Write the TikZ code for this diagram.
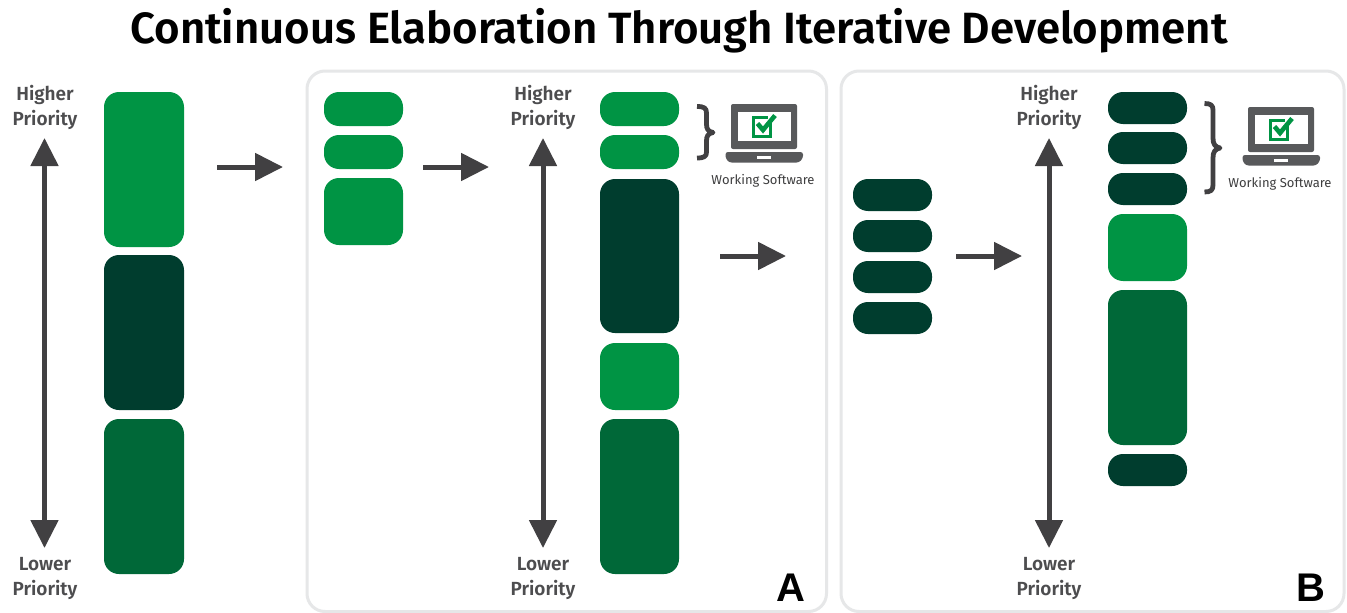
\documentclass[tikz,border=0pt]{standalone}
\usepackage{fontspec}
\setmainfont[BoldFont={Fira Sans SemiBold}]{Fira Sans}
\newfontfamily\letterfont{Liberation Sans}
\usetikzlibrary{arrows.meta}
\definecolor{gA}{HTML}{009444}
\definecolor{gB}{HTML}{003D2E}
\definecolor{gC}{HTML}{006838}
\definecolor{ink}{HTML}{414042}
\definecolor{lab}{HTML}{4D4D4F}
\definecolor{lap}{HTML}{58595B}
\definecolor{panelc}{HTML}{E6E7E8}
\tikzset{
  barbox/.style={rectangle,rounded corners=#1,draw=none,inner sep=0pt,outer sep=0pt,anchor=north west},
  barbox/.default=15pt,
  arrowline/.style={draw=ink,line width=5pt,-{Triangle[length=28pt,width=27pt]}},
  bothline/.style={draw=ink,line width=5pt,{Triangle[length=28pt,width=27pt]}-{Triangle[length=28pt,width=27pt]}},
  paneln/.style={rectangle,rounded corners=18pt,draw=panelc,line width=3pt,anchor=north west,inner sep=0pt,outer sep=0pt},
  prio/.style={text=lab,font=\fontsize{19}{25}\selectfont\bfseries,align=center,inner sep=0pt},
  wsw/.style={text=lab!80!black,font=\fontsize{13}{14}\selectfont,inner sep=0pt},
  bracepath/.style={draw=ink,line width=4.8pt,line join=round},
}
\newcommand{\barnode}[6]{\node[barbox,fill=#2,minimum width=#5 pt,minimum height=#6 pt] (#1) at (#3,#4) {};}
\newcommand{\laptop}[2]{%
  \begin{scope}[shift={(#1,#2)}]
    \fill[lap,rounded corners=2pt] (731,104) rectangle (797,149);
    \fill[white] (737.5,111.5) rectangle (791,140.5);
    \fill[lap,rounded corners=2.5pt] (725.5,152) -- (803,152) -- (803,158) -- (799,162.5) -- (729,162.5) -- (725.5,158) -- cycle;
    \fill[white] (757,155.5) rectangle (771,158.5);
    \draw[gA,line width=3pt] (770.5,122) -- (770.5,136) -- (753.5,136) -- (753.5,117.5) -- (768,117.5);
    \draw[gA,line width=4.6pt] (757.5,123.5) -- (763,130) -- (775,115.5);
  \end{scope}}
\begin{document}
\begin{tikzpicture}[x=1pt,y=-1pt]
\useasboundingbox (0,0) rectangle (1347,613);
\fill[white] (0,0) rectangle (1347,613);
\node[text=black,font=\fontsize{43.75}{48}\selectfont\bfseries,inner sep=0pt] (title) at (679,31) {Continuous Elaboration Through Iterative Development};
% panels
\node[paneln,minimum width=519.5pt,minimum height=540.5pt] (panelA) at (307,71) {};
\node[paneln,minimum width=503pt,minimum height=540.5pt] (panelB) at (841,71) {};
% left column
\barnode{l1}{gA}{104}{92}{80}{155}
\barnode{l2}{gB}{104}{255}{80}{155}
\barnode{l3}{gC}{104}{419}{80}{155}
% A left
\barnode{a1}{gA}{324}{92}{79}{34}
\barnode{a2}{gA}{324}{135}{79}{34}
\barnode{a3}{gA}{324}{178}{79}{67}
% A right
\barnode{ar1}{gA}{600}{92}{79}{34}
\barnode{ar2}{gA}{600}{135}{79}{34}
\barnode{ar3}{gB}{600}{179}{79}{154}
\barnode{ar4}{gA}{600}{343}{79}{67}
\barnode{ar5}{gC}{600}{419}{79}{155}
% B left
\barnode{b1}{gB}{853}{179}{79}{32}
\barnode{b2}{gB}{853}{220}{79}{32}
\barnode{b3}{gB}{853}{261}{79}{32}
\barnode{b4}{gB}{853}{302}{79}{32}
% B right
\barnode{br1}{gB}{1108}{92}{79}{32}
\barnode{br2}{gB}{1108}{132}{79}{32}
\barnode{br3}{gB}{1108}{173}{79}{32}
\barnode{br4}{gA}{1108}{214}{79}{67}
\barnode{br5}{gC}{1108}{290}{79}{155}
\barnode{br6}{gB}{1108}{454}{79}{32}
% priority labels
\node[prio] (h0) at (45,107) {Higher\\Priority};
\node[prio] (lo0) at (45,579) {Lower\\Priority};
\node[prio] (h1) at (543,107) {Higher\\Priority};
\node[prio] (lo1) at (543,579) {Lower\\Priority};
\node[prio] (h2) at (1049,107) {Higher\\Priority};
\node[prio] (lo2) at (1049,579) {Lower\\Priority};
% vertical arrows
\coordinate (v0t) at (44.5,138); \coordinate (v0b) at (44.5,548);
\coordinate (v1t) at (543,138); \coordinate (v1b) at (543,548);
\coordinate (v2t) at (1049,138); \coordinate (v2b) at (1049,548);
\draw[bothline] (v0t) -- (v0b);
\draw[bothline] (v1t) -- (v1b);
\draw[bothline] (v2t) -- (v2b);
% horizontal arrows
\coordinate (s1) at (217,167); \coordinate (e1) at (283,167);
\coordinate (s2) at (423,167); \coordinate (e2) at (489,167);
\coordinate (s3) at (720,256); \coordinate (e3) at (786,256);
\coordinate (s4) at (956,256); \coordinate (e4) at (1022,256);
\draw[arrowline] (s1) -- (e1);
\draw[arrowline] (s2) -- (e2);
\draw[arrowline] (s3) -- (e3);
\draw[arrowline] (s4) -- (e4);
% braces
\draw[bracepath] (697,106.5) .. controls (704,106.5) and (706.5,108) .. (706.5,113) -- (706.5,124) .. controls (706.5,129) and (708,131.5) .. (713,132.5) .. controls (708,133.5) and (706.5,136) .. (706.5,141) -- (706.5,152) .. controls (706.5,156.5) and (704,158) .. (697,158);
\draw[bracepath] (1204.5,103.5) .. controls (1211,103.5) and (1213,105.5) .. (1213,110) -- (1213,138) .. controls (1213,144) and (1215,147) .. (1220,148) .. controls (1215,149) and (1213,152) .. (1213,158) -- (1213,185) .. controls (1213,190) and (1211,192) .. (1204.5,192);
% laptops
\laptop{0}{0}
\laptop{517}{3}
\node[wsw] (ws1) at (763,180.5) {Working Software};
\node[wsw] (ws2) at (1280,183.5) {Working Software};
% letters
\node[text=black,font=\letterfont\fontsize{40}{40}\selectfont\bfseries,inner sep=0pt] (la) at (790.5,587.5) {A};
\node[text=black,font=\letterfont\fontsize{40}{40}\selectfont\bfseries,inner sep=0pt] (lb) at (1311,587.5) {B};
\end{tikzpicture}
\end{document}
